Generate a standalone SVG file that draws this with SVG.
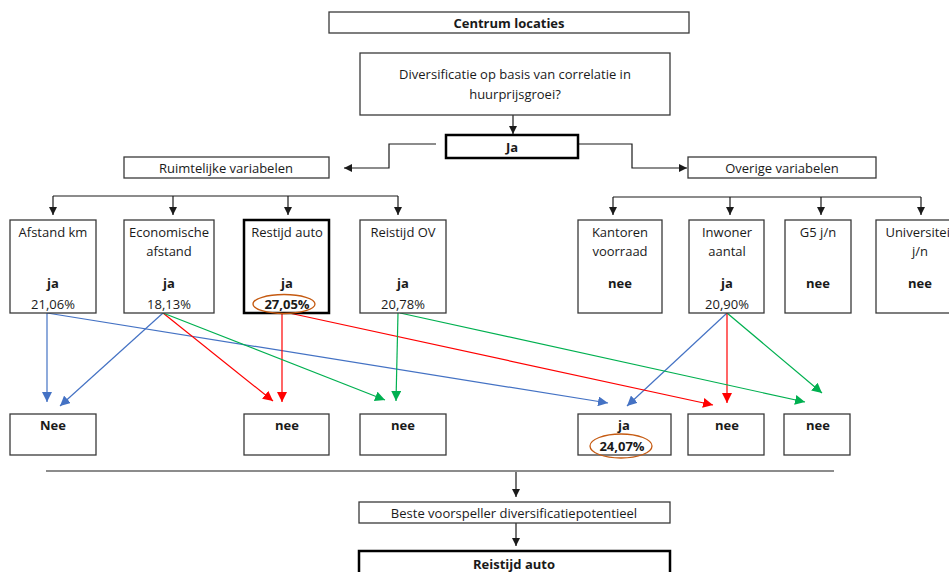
<svg xmlns="http://www.w3.org/2000/svg" width="949" height="572" viewBox="0 0 949 572">
<style>
.b{fill:#fff;stroke:#3a3a3a;stroke-width:1.3}
.tb{fill:#fff;stroke:#000;stroke-width:2.5}
text{font-family:"Open Sans","Liberation Sans",Arial,sans-serif;font-size:13px;fill:#1a1a1a;text-anchor:middle;dominant-baseline:central}
.bd{font-weight:bold}
.k{fill:none;stroke:#1a1a1a;stroke-width:1.2}
.bl{fill:none;stroke:#4472C4;stroke-width:1.2}
.rd{fill:none;stroke:#FF0000;stroke-width:1.2}
.gr{fill:none;stroke:#00B050;stroke-width:1.2}
.ov{fill:none;stroke:#C55A11;stroke-width:1.3}
</style>
<defs>
<marker id="ak" markerUnits="userSpaceOnUse" markerWidth="9" markerHeight="8" refX="8" refY="4" orient="auto"><path d="M0,0 L8,4 L0,8 z" fill="#1a1a1a"/></marker>
<marker id="ab" markerUnits="userSpaceOnUse" markerWidth="11" markerHeight="10" refX="10" refY="5" orient="auto"><path d="M0,0 L10,5 L0,10 z" fill="#4472C4"/></marker>
<marker id="ar" markerUnits="userSpaceOnUse" markerWidth="11" markerHeight="10" refX="10" refY="5" orient="auto"><path d="M0,0 L10,5 L0,10 z" fill="#FF0000"/></marker>
<marker id="ag" markerUnits="userSpaceOnUse" markerWidth="11" markerHeight="10" refX="10" refY="5" orient="auto"><path d="M0,0 L10,5 L0,10 z" fill="#00B050"/></marker>
</defs>
<rect width="949" height="572" fill="#fff"/>

<g id="connectors">
<path class="k" d="M513,115 V134" marker-end="url(#ak)"/>
<path class="k" d="M436,144 H389 V168 H344" marker-end="url(#ak)"/>
<path class="k" d="M578,144 H632 V168 H687" marker-end="url(#ak)"/>
<path class="k" d="M53,196 H398"/>
<path class="k" d="M53,196 V215" marker-end="url(#ak)"/>
<path class="k" d="M173,196 V215" marker-end="url(#ak)"/>
<path class="k" d="M288,196 V215" marker-end="url(#ak)"/>
<path class="k" d="M398,196 V215" marker-end="url(#ak)"/>
<path class="k" d="M613,197 H921"/>
<path class="k" d="M613,197 V215" marker-end="url(#ak)"/>
<path class="k" d="M730,197 V215" marker-end="url(#ak)"/>
<path class="k" d="M821,197 V215" marker-end="url(#ak)"/>
<path class="k" d="M921,197 V215" marker-end="url(#ak)"/>
<path class="k" d="M46,471 H834"/>
<path class="k" d="M516,472 V497" marker-end="url(#ak)"/>
<path class="k" d="M516,523 V546" marker-end="url(#ak)"/>

<path class="bl" d="M47,313 V402" marker-end="url(#ab)"/>
<path class="bl" d="M47,313 L608,403" marker-end="url(#ab)"/>
<path class="bl" d="M163,313 L60,406" marker-end="url(#ab)"/>
<path class="bl" d="M727,313 L627,406" marker-end="url(#ab)"/>

<path class="rd" d="M163,313 L273,401" marker-end="url(#ar)"/>
<path class="rd" d="M282,313 V402" marker-end="url(#ar)"/>
<path class="rd" d="M289,313 L713,405" marker-end="url(#ar)"/>
<path class="rd" d="M727,313 V403" marker-end="url(#ar)"/>

<path class="gr" d="M163,313 L385,400" marker-end="url(#ag)"/>
<path class="gr" d="M398,313 L396,401" marker-end="url(#ag)"/>
<path class="gr" d="M400,313 L805,402" marker-end="url(#ag)"/>
<path class="gr" d="M727,313 L822,393" marker-end="url(#ag)"/>
</g>

<g id="centrum"><rect class="b" x="329" y="12" width="360" height="21"/><text class="bd" x="509" y="23">Centrum locaties</text></g>
<g id="vraag"><rect class="b" x="360" y="53" width="310" height="62"/><text x="515" y="74">Diversificatie op basis van correlatie in</text><text x="515" y="94">huurprijsgroei?</text></g>
<g id="ja"><rect class="tb" x="446" y="135" width="132" height="23"/><text class="bd" x="512" y="147">Ja</text></g>
<g id="ruimtelijk"><rect class="b" x="124" y="157" width="205" height="21"/><text x="226" y="168">Ruimtelijke variabelen</text></g>
<g id="overig"><rect class="b" x="688" y="157" width="188" height="21"/><text x="782" y="168">Overige variabelen</text></g>

<g id="afstand"><rect class="b" x="10" y="220" width="86" height="93"/><text x="53" y="232">Afstand km</text><text class="bd" x="53" y="283">ja</text><text x="53" y="304">21,06%</text></g>
<g id="economisch"><rect class="b" x="124" y="220" width="90" height="93"/><text x="169" y="232">Economische</text><text x="169" y="251">afstand</text><text class="bd" x="169" y="283">ja</text><text x="169" y="304">18,13%</text></g>
<g id="restijd"><rect class="tb" x="244" y="220" width="85" height="93"/><text x="287" y="232">Restijd auto</text><text class="bd" x="287" y="283">ja</text><text class="bd" x="287" y="304">27,05%</text><ellipse class="ov" cx="284" cy="304" rx="31" ry="9.5"/></g>
<g id="reistijdov"><rect class="b" x="360" y="220" width="86" height="93"/><text x="403" y="232">Reistijd OV</text><text class="bd" x="403" y="283">ja</text><text x="403" y="304">20,78%</text></g>
<g id="kantoren"><rect class="b" x="578" y="220" width="84" height="93"/><text x="620" y="232">Kantoren</text><text x="620" y="251">voorraad</text><text class="bd" x="620" y="283">nee</text></g>
<g id="inwoner"><rect class="b" x="689" y="220" width="75" height="93"/><text x="727" y="232">Inwoner</text><text x="727" y="251">aantal</text><text class="bd" x="727" y="283">ja</text><text x="727" y="304">20,90%</text></g>
<g id="g5"><rect class="b" x="785" y="220" width="66" height="93"/><text x="818" y="232">G5 j/n</text><text class="bd" x="818" y="283">nee</text></g>
<g id="universiteit"><rect class="b" x="876" y="220" width="88" height="93"/><text x="920" y="232">Universiteit</text><text x="920" y="251">j/n</text><text class="bd" x="920" y="283">nee</text></g>

<g id="r1"><rect class="b" x="10" y="414" width="86" height="41"/><text class="bd" x="53" y="425">Nee</text></g>
<g id="r2"><rect class="b" x="244" y="414" width="85" height="41"/><text class="bd" x="287" y="425">nee</text></g>
<g id="r3"><rect class="b" x="360" y="414" width="86" height="41"/><text class="bd" x="403" y="425">nee</text></g>
<g id="r4"><rect class="b" x="578" y="414" width="93" height="41"/><text class="bd" x="624" y="425">ja</text><text class="bd" x="622" y="446">24,07%</text><ellipse class="ov" cx="621" cy="446" rx="31" ry="12"/></g>
<g id="r5"><rect class="b" x="688" y="414" width="76" height="41"/><text class="bd" x="727" y="425">nee</text></g>
<g id="r6"><rect class="b" x="784" y="414" width="66" height="41"/><text class="bd" x="818" y="425">nee</text></g>

<g id="beste"><rect class="b" x="359" y="502" width="311" height="21"/><text x="514" y="513">Beste voorspeller diversificatiepotentieel</text></g>
<g id="reistijdauto"><rect class="tb" x="359" y="551" width="311" height="30"/><text class="bd" x="514" y="564">Reistijd auto</text></g>
</svg>
